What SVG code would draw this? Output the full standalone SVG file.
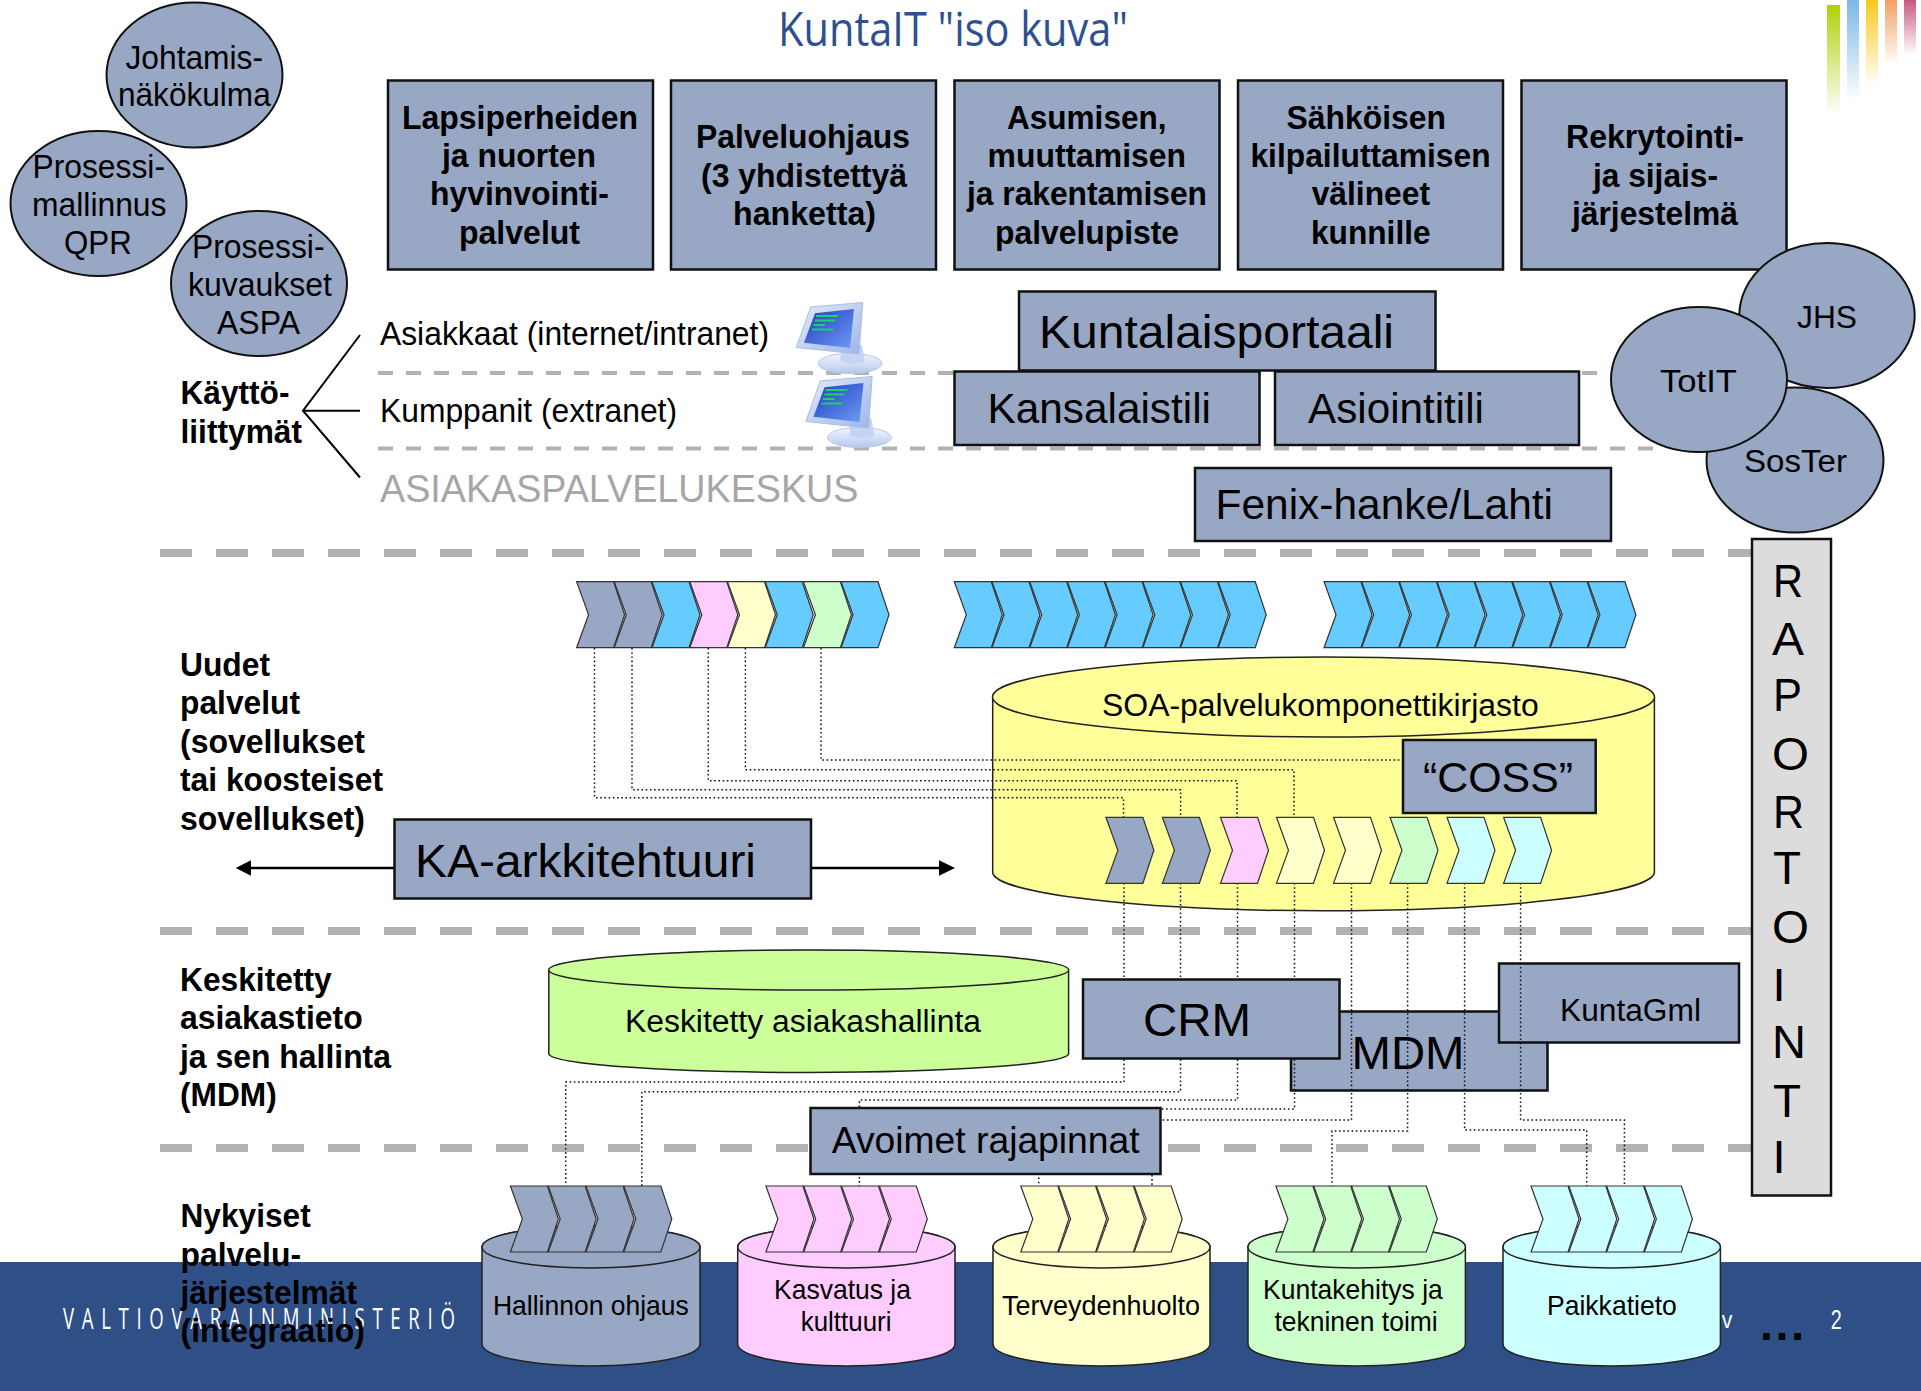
<svg xmlns="http://www.w3.org/2000/svg" width="1921" height="1391" viewBox="0 0 1921 1391">
<style>
text{font-family:"Liberation Sans",Arial,sans-serif;fill:#000}
.b{font-weight:700;font-size:33px}
.r33{font-size:33px}
.r31{font-size:31px}
.r28{font-size:28px}
.r42{font-size:42px}
.r46{font-size:46px}
.box{fill:#98a7c4;stroke:#111;stroke-width:2.5}
.ell{fill:#98a7c4;stroke:#111;stroke-width:2}
.cyl{stroke:#222;stroke-width:1.5}
.chev{stroke:#333;stroke-width:1.2}
.grey{fill:#98a7c4}.blue{fill:#66ccff}.pink{fill:#ffccff}.yel{fill:#ffffcc}.grn{fill:#ccffcc}.cyan{fill:#ccffff}
.thick{stroke:#b2b2b2;stroke-width:8;stroke-dasharray:32 24;fill:none}
.thin{stroke:#b2b2b2;stroke-width:4;stroke-dasharray:15 13;fill:none}
.dot{fill:none;stroke:#111;stroke-width:1.5;stroke-dasharray:1.6 2.6}
.white{fill:#fff}
</style>
<defs>
<path id="chev" d="M0 0H37L48 33L37 66H0L12 33Z"/>
<linearGradient id="g1" x1="0" y1="0" x2="0" y2="1"><stop offset="0" stop-color="#afd10a"/><stop offset="1" stop-color="#afd10a" stop-opacity="0"/></linearGradient>
<linearGradient id="g2" x1="0" y1="0" x2="0" y2="1"><stop offset="0" stop-color="#7ab8e6"/><stop offset="1" stop-color="#7ab8e6" stop-opacity="0"/></linearGradient>
<linearGradient id="g3" x1="0" y1="0" x2="0" y2="1"><stop offset="0" stop-color="#f9c81c"/><stop offset="1" stop-color="#f9c81c" stop-opacity="0"/></linearGradient>
<linearGradient id="g4" x1="0" y1="0" x2="0" y2="1"><stop offset="0" stop-color="#f2a063"/><stop offset="1" stop-color="#f2a063" stop-opacity="0"/></linearGradient>
<linearGradient id="g5" x1="0" y1="0" x2="0" y2="1"><stop offset="0" stop-color="#c9587f"/><stop offset="1" stop-color="#c9587f" stop-opacity="0"/></linearGradient>
<linearGradient id="scr" x1="0" y1="0" x2="1" y2="1"><stop offset="0" stop-color="#1c3cc4"/><stop offset="1" stop-color="#6f9cf0"/></linearGradient>
<linearGradient id="bod" x1="0" y1="0" x2="1" y2="1"><stop offset="0" stop-color="#e4ecfb"/><stop offset="1" stop-color="#9db6e8"/></linearGradient>
<linearGradient id="bas" x1="0" y1="0" x2="0" y2="1"><stop offset="0" stop-color="#f4f7fd"/><stop offset="1" stop-color="#b4c7ec"/></linearGradient>
<g id="pc">
<ellipse cx="850" cy="363.5" rx="32" ry="10" fill="url(#bas)" stroke="#b4c7ec"/>
<path d="M842 342L862 345L865 362Q852 366 840 361Z" fill="#c5d4f2"/>
<path d="M810.7 307L862.7 302.5L859 354L796.3 347.5Z" fill="url(#bod)" stroke="#a9bde6"/>
<path d="M815 313.3L854 309L850 348L804 342.7Z" fill="url(#scr)"/>
<path d="M816 316H838M815 320.5H835M813.5 325H825M812 329.5H833" stroke="#1fd06a" stroke-width="2" fill="none"/>
</g>
</defs>

<g id="footer">
<rect x="0" y="1262" width="1921" height="129" fill="#2f4f87"/>
<text transform="translate(63 1329) scale(.62 1)" x="0" y="0" font-size="30" class="white" textLength="632" lengthAdjust="spacing" style="font-family:'Open Sans',sans-serif">VALTIOVARAINMINISTERIÖ</text>
<text x="1721.8" y="1328" font-size="24" class="white" textLength="10.6" lengthAdjust="spacingAndGlyphs">v</text>
<text x="1830.8" y="1329" font-size="28" class="white" textLength="11" lengthAdjust="spacingAndGlyphs">2</text>
<text x="1760" y="1340" font-size="46" font-weight="700" textLength="44" lengthAdjust="spacing">...</text>
</g>

<g id="deco">
<rect x="1827" y="5" width="13" height="110" fill="url(#g1)"/>
<rect x="1847" y="0" width="12" height="100" fill="url(#g2)"/>
<rect x="1866" y="0" width="12" height="85" fill="url(#g3)"/>
<rect x="1885" y="0" width="12" height="65" fill="url(#g4)"/>
<rect x="1904" y="0" width="12" height="55" fill="url(#g5)"/>
</g>

<text id="title" x="778" y="46" font-size="47" style="font-family:'Open Sans',sans-serif;fill:#2e5090" textLength="350" lengthAdjust="spacingAndGlyphs">KuntaIT "iso kuva"</text>

<g id="separators">
<line class="thin" x1="378" y1="373" x2="1600" y2="373"/>
<line class="thin" x1="378" y1="448.5" x2="1660" y2="448.5"/>
<line class="thick" x1="160" y1="553" x2="1752" y2="553"/>
<line class="thick" x1="160" y1="931" x2="1752" y2="931"/>
<line class="thick" x1="160" y1="1148" x2="1752" y2="1148"/>
</g>

<g id="oval-johtamis"><ellipse class="ell" cx="194.5" cy="75" rx="88" ry="72.5"/>
<text class="r33" x="125.5" y="68.6" textLength="137.5" lengthAdjust="spacingAndGlyphs">Johtamis-</text>
<text class="r33" x="118" y="106.4" textLength="152.7" lengthAdjust="spacingAndGlyphs">näkökulma</text></g>
<g id="oval-qpr"><ellipse class="ell" cx="98.5" cy="203.5" rx="88" ry="72.5"/>
<text class="r33" x="32.5" y="177.5" textLength="132.5" lengthAdjust="spacingAndGlyphs">Prosessi-</text>
<text class="r33" x="32" y="215.7" textLength="134.5" lengthAdjust="spacingAndGlyphs">mallinnus</text>
<text class="r33" x="64" y="254" textLength="67.7" lengthAdjust="spacingAndGlyphs">QPR</text></g>
<g id="oval-aspa"><ellipse class="ell" cx="259" cy="283.5" rx="88" ry="72.5"/>
<text class="r33" x="192" y="258" textLength="132.5" lengthAdjust="spacingAndGlyphs">Prosessi-</text>
<text class="r33" x="188" y="295.7" textLength="144" lengthAdjust="spacingAndGlyphs">kuvaukset</text>
<text class="r33" x="217" y="334" textLength="83" lengthAdjust="spacingAndGlyphs">ASPA</text></g>

<g id="box-lapsi"><rect class="box" x="388" y="80.5" width="265" height="189"/>
<text class="b" x="402" y="128.6" textLength="236" lengthAdjust="spacingAndGlyphs">Lapsiperheiden</text>
<text class="b" x="442" y="167.4" textLength="154" lengthAdjust="spacingAndGlyphs">ja nuorten</text>
<text class="b" x="430" y="205" textLength="179" lengthAdjust="spacingAndGlyphs">hyvinvointi-</text>
<text class="b" x="459" y="243.6" textLength="121" lengthAdjust="spacingAndGlyphs">palvelut</text></g>
<g id="box-palvelu"><rect class="box" x="671" y="80.5" width="265" height="189"/>
<text class="b" x="696" y="148" textLength="214" lengthAdjust="spacingAndGlyphs">Palveluohjaus</text>
<text class="b" x="701" y="186.8" textLength="206" lengthAdjust="spacingAndGlyphs">(3 yhdistettyä</text>
<text class="b" x="733" y="225" textLength="143" lengthAdjust="spacingAndGlyphs">hanketta)</text></g>
<g id="box-asuminen"><rect class="box" x="954.5" y="80.5" width="265" height="189"/>
<text class="b" x="1007" y="128.6" textLength="159.5" lengthAdjust="spacingAndGlyphs">Asumisen,</text>
<text class="b" x="987.6" y="167.4" textLength="198.4" lengthAdjust="spacingAndGlyphs">muuttamisen</text>
<text class="b" x="967" y="205" textLength="240" lengthAdjust="spacingAndGlyphs">ja rakentamisen</text>
<text class="b" x="995" y="243.6" textLength="184" lengthAdjust="spacingAndGlyphs">palvelupiste</text></g>
<g id="box-kilpailu"><rect class="box" x="1238" y="80.5" width="265" height="189"/>
<text class="b" x="1286.6" y="128.6" textLength="159.4" lengthAdjust="spacingAndGlyphs">Sähköisen</text>
<text class="b" x="1250.4" y="167.4" textLength="240.2" lengthAdjust="spacingAndGlyphs">kilpailuttamisen</text>
<text class="b" x="1311.7" y="205" textLength="118.3" lengthAdjust="spacingAndGlyphs">välineet</text>
<text class="b" x="1311" y="243.6" textLength="119.6" lengthAdjust="spacingAndGlyphs">kunnille</text></g>
<g id="box-rekry"><rect class="box" x="1521.5" y="80.5" width="265" height="189"/>
<text class="b" x="1566" y="148" textLength="178" lengthAdjust="spacingAndGlyphs">Rekrytointi-</text>
<text class="b" x="1593" y="186.8" textLength="125" lengthAdjust="spacingAndGlyphs">ja sijais-</text>
<text class="b" x="1572" y="225" textLength="166" lengthAdjust="spacingAndGlyphs">järjestelmä</text></g>

<g id="kayttoliittymat">
<text class="b" x="180.5" y="404" textLength="109" lengthAdjust="spacingAndGlyphs">Käyttö-</text>
<text class="b" x="180.5" y="443" textLength="121.5" lengthAdjust="spacingAndGlyphs">liittymät</text>
<path d="M360 335L303 410.7L360 477.5M303 410.7H360" fill="none" stroke="#000" stroke-width="2"/>
</g>
<g id="channels">
<text class="r33" x="380" y="344.6" textLength="389" lengthAdjust="spacingAndGlyphs">Asiakkaat (internet/intranet)</text>
<text class="r33" x="380" y="421.8" textLength="297" lengthAdjust="spacingAndGlyphs">Kumppanit (extranet)</text>
<text x="380" y="502.3" font-size="38" style="fill:#a6a6a6" textLength="478.5" lengthAdjust="spacingAndGlyphs">ASIAKASPALVELUKESKUS</text>
</g>
<g id="pc-1"><use href="#pc"/></g>
<g id="pc-2"><use href="#pc" x="9.5" y="74"/></g>

<g id="box-kansalaistili"><rect class="box" x="954.5" y="371.5" width="305" height="73.5"/>
<text class="r42" x="987.5" y="423" textLength="223.5" lengthAdjust="spacingAndGlyphs">Kansalaistili</text></g>
<g id="box-asiointitili"><rect class="box" x="1275" y="371.5" width="304" height="73.5"/>
<text class="r42" x="1308" y="423" textLength="176" lengthAdjust="spacingAndGlyphs">Asiointitili</text></g>
<g id="box-kuntalaisportaali"><rect class="box" x="1019" y="291.5" width="416.5" height="79"/>
<text class="r46" x="1039" y="348" textLength="355" lengthAdjust="spacingAndGlyphs">Kuntalaisportaali</text></g>
<g id="box-fenix"><rect class="box" x="1195" y="468" width="416" height="73"/>
<text class="r42" x="1215.5" y="519" textLength="337.5" lengthAdjust="spacingAndGlyphs">Fenix-hanke/Lahti</text></g>

<g id="oval-soster"><ellipse class="ell" cx="1795" cy="460" rx="88.5" ry="72.5"/>
<text class="r31" x="1744" y="472" textLength="103" lengthAdjust="spacingAndGlyphs">SosTer</text></g>
<g id="oval-jhs"><ellipse class="ell" cx="1827" cy="315.5" rx="87.7" ry="72.5"/>
<text class="r31" x="1797" y="327.5" textLength="60" lengthAdjust="spacingAndGlyphs">JHS</text></g>
<g id="oval-totit"><ellipse class="ell" cx="1699" cy="379.5" rx="88" ry="72.5"/>
<text class="r31" x="1660" y="392" textLength="77" lengthAdjust="spacingAndGlyphs">TotIT</text></g>

<g id="chevrons-a">
<use href="#chev" class="chev grey" x="576.6" y="581.7"/><use href="#chev" class="chev grey" x="614.2" y="581.7"/><use href="#chev" class="chev blue" x="652" y="581.7"/><use href="#chev" class="chev pink" x="689.8" y="581.7"/><use href="#chev" class="chev yel" x="727.5" y="581.7"/><use href="#chev" class="chev blue" x="765.2" y="581.7"/><use href="#chev" class="chev grn" x="803.4" y="581.7"/><use href="#chev" class="chev blue" x="841" y="581.7"/>
</g>
<g id="chevrons-b">
<use href="#chev" class="chev blue" x="954.3" y="581.7"/><use href="#chev" class="chev blue" x="992" y="581.7"/><use href="#chev" class="chev blue" x="1029.7" y="581.7"/><use href="#chev" class="chev blue" x="1067.4" y="581.7"/><use href="#chev" class="chev blue" x="1105.1" y="581.7"/><use href="#chev" class="chev blue" x="1142.8" y="581.7"/><use href="#chev" class="chev blue" x="1180.5" y="581.7"/><use href="#chev" class="chev blue" x="1218.2" y="581.7"/>
</g>
<g id="chevrons-c">
<use href="#chev" class="chev blue" x="1324" y="581.7"/><use href="#chev" class="chev blue" x="1361.7" y="581.7"/><use href="#chev" class="chev blue" x="1399.4" y="581.7"/><use href="#chev" class="chev blue" x="1437.1" y="581.7"/><use href="#chev" class="chev blue" x="1474.8" y="581.7"/><use href="#chev" class="chev blue" x="1512.5" y="581.7"/><use href="#chev" class="chev blue" x="1550.2" y="581.7"/><use href="#chev" class="chev blue" x="1587.9" y="581.7"/>
</g>

<g id="cyl-soa">
<path class="cyl" fill="#ffff99" d="M992.7 697V873A331 39 0 0 0 1654.4 873V697A331 40 0 0 0 992.7 697Z"/>
<ellipse class="cyl" fill="#ffff99" cx="1323.5" cy="697" rx="331" ry="40"/>
<text class="r31" x="1102" y="716.2" textLength="436.7" lengthAdjust="spacingAndGlyphs">SOA-palvelukomponettikirjasto</text>
</g>
<g id="cyl-asiakas">
<path class="cyl" fill="#ccff99" d="M548.8 970V1054A260 19 0 0 0 1068.6 1054V970A260 20 0 0 0 548.8 970Z"/>
<ellipse class="cyl" fill="#ccff99" cx="808.7" cy="970" rx="260" ry="20"/>
<text class="r31" x="625" y="1031.5" textLength="356" lengthAdjust="spacingAndGlyphs">Keskitetty asiakashallinta</text>
</g>
<g id="box-mdm"><rect class="box" x="1291" y="1011.5" width="256.5" height="79"/>
<text class="r46" x="1351.5" y="1068.5" textLength="113" lengthAdjust="spacingAndGlyphs">MDM</text></g>
<g id="box-kuntagml"><rect class="box" x="1499" y="963.5" width="240" height="79"/>
<text class="r31" x="1560" y="1020.5" textLength="141" lengthAdjust="spacingAndGlyphs">KuntaGml</text></g>

<g id="connectors">
<path class="dot" d="M594.5 648V797.7H1123.5V817"/>
<path class="dot" d="M632 648V789.7H1180.6V817"/>
<path class="dot" d="M708.3 648V780.7H1237V817"/>
<path class="dot" d="M745.4 648V769.7H1294V817"/>
<path class="dot" d="M821 648V760H1403"/>
<path class="dot" d="M1124 883V1082H565.7V1186"/>
<path class="dot" d="M1180.5 883V1091.7H641.8V1186"/>
<path class="dot" d="M1237.5 883V1100H859.4V1186"/>
<path class="dot" d="M1294.5 883V1109H1038.8V1186"/>
<path class="dot" d="M1351.5 883V1120H1152V1186"/>
<path class="dot" d="M1407.6 883V1131H1332V1186"/>
<path class="dot" d="M1464.6 883V1130H1586.7V1186"/>
<path class="dot" d="M1520.6 883V1120H1624.4V1186"/>
<g id="arrows" fill="#000" stroke="#000">
<path d="M394 868H250" stroke-width="2.5" fill="none"/><path d="M235.7 868L251 860.3V875.7Z" stroke="none"/>
<path d="M811 868H940" stroke-width="2.5" fill="none"/><path d="M955 868L939 860.3V875.7Z" stroke="none"/>
</g>
</g>

<g id="box-coss"><rect class="box" x="1403" y="740" width="192.7" height="73"/>
<text class="r42" x="1423" y="792" textLength="150" lengthAdjust="spacingAndGlyphs">“COSS”</text></g>
<g id="chevrons-inner">
<use href="#chev" class="chev grey" x="1105.9" y="817.3"/><use href="#chev" class="chev grey" x="1162.4" y="817.3"/><use href="#chev" class="chev pink" x="1220.5" y="817.3"/><use href="#chev" class="chev yel" x="1276.5" y="817.3"/><use href="#chev" class="chev yel" x="1333.5" y="817.3"/><use href="#chev" class="chev grn" x="1390" y="817.3"/><use href="#chev" class="chev cyan" x="1447" y="817.3"/><use href="#chev" class="chev cyan" x="1503.6" y="817.3"/>
</g>

<g id="box-ka"><rect class="box" x="394.5" y="819.5" width="416.5" height="79"/>
<text class="r46" x="415" y="877" textLength="341" lengthAdjust="spacingAndGlyphs">KA-arkkitehtuuri</text></g>
<g id="box-crm"><rect class="box" x="1083" y="979.5" width="256.5" height="79"/>
<text class="r46" x="1143" y="1036" textLength="108" lengthAdjust="spacingAndGlyphs">CRM</text></g>
<g id="box-avoimet"><rect class="box" x="810.5" y="1108" width="350" height="66"/>
<text x="831.8" y="1153" font-size="37" textLength="307.8" lengthAdjust="spacingAndGlyphs">Avoimet rajapinnat</text></g>

<g id="labels">
<text class="b" x="180" y="675.7" textLength="90" lengthAdjust="spacingAndGlyphs">Uudet</text>
<text class="b" x="180" y="714.3" textLength="120" lengthAdjust="spacingAndGlyphs">palvelut</text>
<text class="b" x="180" y="752.7" textLength="185" lengthAdjust="spacingAndGlyphs">(sovellukset</text>
<text class="b" x="180" y="791" textLength="203" lengthAdjust="spacingAndGlyphs">tai koosteiset</text>
<text class="b" x="180" y="829.8" textLength="185" lengthAdjust="spacingAndGlyphs">sovellukset)</text>
<text class="b" x="180" y="990.7" textLength="151.7" lengthAdjust="spacingAndGlyphs">Keskitetty</text>
<text class="b" x="180" y="1029" textLength="182.7" lengthAdjust="spacingAndGlyphs">asiakastieto</text>
<text class="b" x="180" y="1067.7" textLength="211" lengthAdjust="spacingAndGlyphs">ja sen hallinta</text>
<text class="b" x="180" y="1106" textLength="96.7" lengthAdjust="spacingAndGlyphs">(MDM)</text>
<text class="b" x="180.5" y="1226.7" textLength="130.2" lengthAdjust="spacingAndGlyphs">Nykyiset</text>
<text class="b" x="180.5" y="1265.7" textLength="120.5" lengthAdjust="spacingAndGlyphs">palvelu-</text>
<text class="b" x="180.5" y="1304" textLength="176.5" lengthAdjust="spacingAndGlyphs">järjestelmät</text>
<text class="b" x="180.5" y="1342" textLength="184.5" lengthAdjust="spacingAndGlyphs">(integraatio)</text>
</g>

<g id="sys-hallinto">
<path class="cyl grey" d="M482 1247V1344A109 22 0 0 0 700 1344V1247A109 21 0 0 0 482 1247Z"/>
<ellipse class="cyl grey" cx="591" cy="1247" rx="109" ry="21"/>
<use href="#chev" class="chev grey" x="510.4" y="1186"/><use href="#chev" class="chev grey" x="548.2" y="1186"/><use href="#chev" class="chev grey" x="586" y="1186"/><use href="#chev" class="chev grey" x="623.8" y="1186"/>
<text class="r28" x="493" y="1314.5" textLength="195.8" lengthAdjust="spacingAndGlyphs">Hallinnon ohjaus</text>
</g>
<g id="sys-kasvatus">
<path class="cyl pink" d="M737.7 1247V1344A108.6 22 0 0 0 955 1344V1247A108.6 21 0 0 0 737.7 1247Z"/>
<ellipse class="cyl pink" cx="846.4" cy="1247" rx="108.6" ry="21"/>
<use href="#chev" class="chev pink" x="765.9" y="1186"/><use href="#chev" class="chev pink" x="803.7" y="1186"/><use href="#chev" class="chev pink" x="841.5" y="1186"/><use href="#chev" class="chev pink" x="879.3" y="1186"/>
<text class="r28" x="774" y="1298.5" textLength="137" lengthAdjust="spacingAndGlyphs">Kasvatus ja</text>
<text class="r28" x="800.8" y="1330.5" textLength="90.6" lengthAdjust="spacingAndGlyphs">kulttuuri</text>
</g>
<g id="sys-terveys">
<path class="cyl yel" d="M993 1247V1344A108.5 22 0 0 0 1210 1344V1247A108.5 21 0 0 0 993 1247Z"/>
<ellipse class="cyl yel" cx="1101.5" cy="1247" rx="108.5" ry="21"/>
<use href="#chev" class="chev yel" x="1020.8" y="1186"/><use href="#chev" class="chev yel" x="1058.6" y="1186"/><use href="#chev" class="chev yel" x="1096.4" y="1186"/><use href="#chev" class="chev yel" x="1134.2" y="1186"/>
<text class="r28" x="1002" y="1314.5" textLength="198" lengthAdjust="spacingAndGlyphs">Terveydenhuolto</text>
</g>
<g id="sys-kunta">
<path class="cyl grn" d="M1248 1247V1344A108.7 22 0 0 0 1465.4 1344V1247A108.7 21 0 0 0 1248 1247Z"/>
<ellipse class="cyl grn" cx="1356.7" cy="1247" rx="108.7" ry="21"/>
<use href="#chev" class="chev grn" x="1275.9" y="1186"/><use href="#chev" class="chev grn" x="1313.7" y="1186"/><use href="#chev" class="chev grn" x="1351.5" y="1186"/><use href="#chev" class="chev grn" x="1389.3" y="1186"/>
<text class="r28" x="1263" y="1298.5" textLength="179.8" lengthAdjust="spacingAndGlyphs">Kuntakehitys ja</text>
<text class="r28" x="1274.5" y="1330.5" textLength="163.2" lengthAdjust="spacingAndGlyphs">tekninen toimi</text>
</g>
<g id="sys-paikka">
<path class="cyl cyan" d="M1503 1247V1344A108.7 22 0 0 0 1720.4 1344V1247A108.7 21 0 0 0 1503 1247Z"/>
<ellipse class="cyl cyan" cx="1611.7" cy="1247" rx="108.7" ry="21"/>
<use href="#chev" class="chev cyan" x="1531" y="1186"/><use href="#chev" class="chev cyan" x="1568.8" y="1186"/><use href="#chev" class="chev cyan" x="1606.6" y="1186"/><use href="#chev" class="chev cyan" x="1644.4" y="1186"/>
<text class="r28" x="1547" y="1314.5" textLength="129.8" lengthAdjust="spacingAndGlyphs">Paikkatieto</text>
</g>

<g id="raportointi">
<rect x="1752" y="539" width="79" height="656.5" fill="#dcdcdc" stroke="#111" stroke-width="2.5"/>
<g font-size="47">
<text x="1773" y="597" textLength="30" lengthAdjust="spacingAndGlyphs">R</text>
<text x="1772" y="655" textLength="32" lengthAdjust="spacingAndGlyphs">A</text>
<text x="1773" y="710.7" textLength="29" lengthAdjust="spacingAndGlyphs">P</text>
<text x="1772" y="770" textLength="37" lengthAdjust="spacingAndGlyphs">O</text>
<text x="1773" y="828" textLength="31" lengthAdjust="spacingAndGlyphs">R</text>
<text x="1773" y="884" textLength="28" lengthAdjust="spacingAndGlyphs">T</text>
<text x="1772" y="943" textLength="37" lengthAdjust="spacingAndGlyphs">O</text>
<text x="1772.5" y="1000.7">I</text>
<text x="1772" y="1058" textLength="34" lengthAdjust="spacingAndGlyphs">N</text>
<text x="1773" y="1116.7" textLength="28" lengthAdjust="spacingAndGlyphs">T</text>
<text x="1772.5" y="1173">I</text>
</g>
</g>
</svg>
